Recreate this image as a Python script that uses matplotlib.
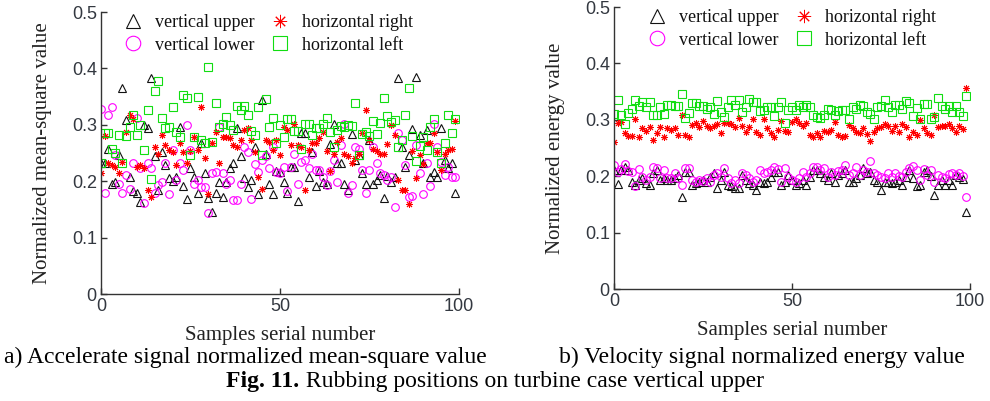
import matplotlib
matplotlib.use('Agg')
import matplotlib.pyplot as plt
import numpy as np
from matplotlib.lines import Line2D

# ---------------- data ----------------
labels = ['vertical upper', 'vertical lower', 'horizontal right', 'horizontal left']
x_ticks = [0, 50, 100]
y_ticks = [0, 0.1, 0.2, 0.3, 0.4, 0.5]
y_tick_labels = ['0', '0.1', '0.2', '0.3', '0.4', '0.5']

# panel a: accelerate signal normalized mean-square value
a_vu = [0.232,0.232,0.257,0.195,0.198,0.246,0.366,0.308,0.208,0.182,
        0.180,0.164,0.300,0.295,0.383,0.245,0.185,0.252,0.229,0.205,
        0.200,0.208,0.297,0.192,0.168,0.224,0.208,0.179,0.268,0.214,
        0.171,0.146,0.180,0.198,0.172,0.198,0.223,0.233,0.294,0.245,
        0.205,0.190,0.202,0.261,0.177,0.344,0.249,0.196,0.177,0.218,
        0.217,0.199,0.179,0.226,0.226,0.165,0.286,0.285,0.207,0.251,
        0.192,0.218,0.198,0.196,0.266,0.302,0.232,0.232,0.196,0.185,
        0.284,0.238,0.246,0.215,0.195,0.274,0.195,0.202,0.211,0.171,
        0.210,0.198,0.208,0.383,0.261,0.226,0.246,0.292,0.385,0.282,
        0.232,0.291,0.208,0.217,0.208,0.294,0.238,0.223,0.233,0.180]
a_vl = [0.328,0.180,0.317,0.331,0.246,0.195,0.180,0.211,0.187,0.233,
        0.313,0.223,0.162,0.232,0.223,0.179,0.193,0.198,0.233,0.177,
        0.255,0.202,0.232,0.220,0.300,0.256,0.196,0.203,0.190,0.190,
        0.143,0.215,0.217,0.297,0.214,0.195,0.203,0.166,0.166,0.196,
        0.261,0.252,0.168,0.231,0.217,0.238,0.244,0.224,0.261,0.217,
        0.214,0.226,0.182,0.226,0.248,0.195,0.235,0.238,0.223,0.248,
        0.220,0.220,0.207,0.193,0.219,0.238,0.199,0.264,0.302,0.179,
        0.193,0.261,0.258,0.220,0.180,0.220,0.261,0.233,0.215,0.211,
        0.203,0.208,0.155,0.285,0.274,0.228,0.172,0.174,0.264,0.214,
        0.177,0.232,0.192,0.301,0.261,0.235,0.211,0.226,0.208,0.208]
a_hr = [0.214,0.280,0.232,0.229,0.226,0.214,0.235,0.288,0.317,0.311,
        0.226,0.229,0.223,0.185,0.172,0.261,0.248,0.282,0.264,0.256,
        0.252,0.228,0.268,0.251,0.232,0.254,0.278,0.255,0.331,0.241,
        0.177,0.268,0.288,0.233,0.278,0.279,0.276,0.264,0.261,0.273,
        0.291,0.294,0.273,0.252,0.208,0.187,0.273,0.270,0.255,0.274,
        0.246,0.297,0.291,0.264,0.301,0.264,0.261,0.185,0.255,0.267,
        0.268,0.276,0.288,0.254,0.219,0.248,0.270,0.276,0.249,0.244,
        0.232,0.242,0.248,0.285,0.327,0.273,0.258,0.254,0.249,0.249,
        0.266,0.300,0.282,0.203,0.185,0.185,0.160,0.254,0.205,0.246,
        0.231,0.267,0.268,0.285,0.252,0.220,0.248,0.255,0.258,0.307]
a_hl = [0.232,0.285,0.285,0.258,0.250,0.282,0.232,0.280,0.297,0.317,
        0.282,0.300,0.255,0.327,0.204,0.360,0.378,0.313,0.294,0.297,
        0.332,0.288,0.279,0.353,0.348,0.246,0.278,0.350,0.273,0.267,
        0.403,0.270,0.339,0.297,0.301,0.314,0.300,0.291,0.333,0.326,
        0.333,0.317,0.290,0.282,0.332,0.246,0.346,0.297,0.313,0.267,
        0.300,0.279,0.310,0.310,0.290,0.290,0.257,0.301,0.301,0.282,
        0.295,0.295,0.302,0.313,0.288,0.261,0.291,0.298,0.297,0.300,
        0.298,0.339,0.246,0.284,0.287,0.280,0.307,0.284,0.304,0.347,
        0.315,0.305,0.308,0.261,0.273,0.317,0.366,0.280,0.236,0.263,
        0.279,0.255,0.297,0.310,0.251,0.232,0.268,0.317,0.286,0.311]

# panel b: velocity signal normalized energy value
b_vu = [0.211,0.186,0.211,0.217,0.211,0.190,0.185,0.193,0.196,0.188,
        0.185,0.205,0.211,0.193,0.196,0.193,0.193,0.196,0.202,0.164,
        0.208,0.208,0.185,0.188,0.190,0.193,0.190,0.199,0.206,0.179,
        0.193,0.208,0.185,0.182,0.179,0.179,0.202,0.193,0.188,0.185,
        0.176,0.190,0.188,0.190,0.199,0.208,0.208,0.185,0.190,0.202,
        0.193,0.185,0.188,0.193,0.185,0.199,0.211,0.211,0.205,0.199,
        0.193,0.205,0.190,0.202,0.205,0.211,0.190,0.189,0.196,0.202,
        0.214,0.205,0.208,0.193,0.190,0.176,0.190,0.190,0.188,0.189,
        0.193,0.185,0.199,0.211,0.196,0.182,0.185,0.208,0.211,0.200,
        0.167,0.185,0.193,0.185,0.193,0.185,0.202,0.199,0.195,0.137]
b_vl = [0.220,0.208,0.212,0.222,0.210,0.208,0.182,0.212,0.199,0.193,
        0.199,0.217,0.214,0.196,0.211,0.196,0.196,0.205,0.196,0.185,
        0.214,0.214,0.193,0.189,0.193,0.192,0.196,0.190,0.202,0.205,
        0.199,0.214,0.196,0.188,0.193,0.188,0.205,0.202,0.196,0.190,
        0.193,0.211,0.205,0.208,0.211,0.217,0.212,0.190,0.214,0.198,
        0.193,0.189,0.196,0.208,0.199,0.205,0.217,0.217,0.211,0.214,
        0.199,0.208,0.202,0.210,0.211,0.220,0.202,0.206,0.217,0.202,
        0.211,0.208,0.227,0.205,0.202,0.199,0.196,0.205,0.199,0.205,
        0.200,0.199,0.208,0.214,0.218,0.211,0.193,0.212,0.202,0.211,
        0.189,0.202,0.199,0.196,0.204,0.205,0.202,0.205,0.200,0.164]
b_hr = [0.260,0.295,0.297,0.276,0.271,0.271,0.302,0.270,0.285,0.281,
        0.288,0.265,0.277,0.288,0.270,0.285,0.282,0.285,0.273,0.308,
        0.273,0.270,0.291,0.295,0.287,0.298,0.289,0.285,0.289,0.292,
        0.276,0.295,0.294,0.292,0.288,0.304,0.289,0.279,0.288,0.301,
        0.279,0.273,0.301,0.285,0.276,0.270,0.282,0.298,0.280,0.279,
        0.297,0.302,0.294,0.289,0.294,0.273,0.270,0.277,0.270,0.281,
        0.279,0.282,0.297,0.273,0.269,0.271,0.291,0.285,0.279,0.276,
        0.285,0.275,0.263,0.279,0.285,0.288,0.292,0.289,0.281,0.289,
        0.279,0.292,0.288,0.270,0.279,0.273,0.300,0.285,0.276,0.273,
        0.308,0.288,0.289,0.289,0.292,0.285,0.279,0.289,0.283,0.357]
b_hl = [0.310,0.335,0.308,0.292,0.312,0.320,0.336,0.324,0.332,0.322,
        0.332,0.308,0.308,0.323,0.310,0.326,0.327,0.324,0.324,0.346,
        0.304,0.313,0.330,0.330,0.324,0.324,0.320,0.322,0.310,0.334,
        0.314,0.305,0.323,0.336,0.326,0.335,0.314,0.323,0.337,0.332,
        0.332,0.315,0.317,0.323,0.322,0.307,0.323,0.332,0.295,0.317,
        0.323,0.318,0.327,0.322,0.326,0.322,0.308,0.305,0.304,0.308,
        0.320,0.318,0.308,0.316,0.317,0.318,0.302,0.323,0.320,0.326,
        0.324,0.314,0.310,0.301,0.323,0.324,0.336,0.323,0.314,0.327,
        0.326,0.320,0.333,0.330,0.307,0.321,0.302,0.329,0.329,0.302,
        0.305,0.338,0.324,0.320,0.324,0.314,0.324,0.314,0.307,0.342]

# ---------------- style ----------------
SERIF = ['Liberation Serif', 'DejaVu Serif']
SANS = ['Liberation Sans', 'DejaVu Sans']
styles = [
    dict(marker='^', mec='#111111', ms=5.5, mew=0.8, mfc='none'),
    dict(marker='o', mec='#ff00ff', ms=5.5, mew=0.8, mfc='none'),
    dict(marker=(8, 2, 0), mec='#ff0000', ms=5.0, mew=0.7, mfc='none'),
    dict(marker='s', mec='#11dd11', ms=5.5, mew=0.8, mfc='none'),
]

fig = plt.figure(figsize=(9.9, 4.01), dpi=100)
axa = fig.add_axes([0.102, 0.2668, 0.3616, 0.703])
axb = fig.add_axes([0.6202, 0.2793, 0.3596, 0.703])


def draw(ax, series, ylabel, leg_x):
    for vals, st in zip(series, styles):
        xs = np.arange(len(vals))
        ax.plot(xs, vals, linestyle='none', **st)
    ax.set_xlim(0, 100)
    ax.set_ylim(0, 0.5)
    ax.set_xticks(x_ticks)
    ax.set_yticks(y_ticks)
    ax.set_yticklabels(y_tick_labels)
    for s in ['top', 'right']:
        ax.spines[s].set_visible(False)
    for s in ['left', 'bottom']:
        ax.spines[s].set_color('#333333')
        ax.spines[s].set_linewidth(1.0)
    ax.tick_params(direction='in', length=4, width=1.0, colors='#333333',
                   labelsize=13, pad=3)
    for lab in ax.get_xticklabels() + ax.get_yticklabels():
        lab.set_family(SANS)
        lab.set_color('#333840')
    ax.set_xlabel('Samples serial number', family=SERIF, fontsize=15,
                  color='#222222', labelpad=8)
    ax.set_ylabel(ylabel, family=SERIF, fontsize=15, color='#222222', labelpad=14)
    handles = [Line2D([], [], linestyle='none', **st) for st in styles]
    leg = ax.legend(handles, labels, ncol=2, frameon=False, loc='upper left',
                    bbox_to_anchor=(leg_x, 1.03), prop={'family': SERIF, 'size': 13},
                    markerscale=1.9, handlelength=1.2, handletextpad=0.6,
                    columnspacing=0.8, labelspacing=0.28, borderpad=0.1)
    for t in leg.get_texts():
        t.set_color('#111111')


draw(axa, [a_vu, a_vl, a_hr, a_hl], 'Normalized mean-square value', 0.03)
draw(axb, [b_vu, b_vl, b_hr, b_hl], 'Normalized energy value', 0.06)

CAP = 17
fig.text(0.004, 1 - 357 / 401, 'a) Accelerate signal normalized mean-square value',
         family=SERIF, fontsize=CAP, va='center', ha='left')
fig.text(0.565, 1 - 357 / 401, 'b) Velocity signal normalized energy value',
         family=SERIF, fontsize=CAP, va='center', ha='left')

# figure caption: bold "Fig. 11." followed by regular text, centred
yc = 1 - 382 / 401
t1 = fig.text(0, yc, 'Fig. 11.', family=SERIF, fontsize=CAP, weight='bold', va='center')
t2 = fig.text(0, yc, ' Rubbing positions on turbine case vertical upper', family=SERIF,
              fontsize=CAP, va='center')
fig.canvas.draw()
r = fig.canvas.get_renderer()
w1 = t1.get_window_extent(r).width / fig.bbox.width
w2 = t2.get_window_extent(r).width / fig.bbox.width
x0 = 0.50 - (w1 + w2) / 2
t1.set_x(x0)
t2.set_x(x0 + w1)

fig.savefig('out.png', dpi=100)
